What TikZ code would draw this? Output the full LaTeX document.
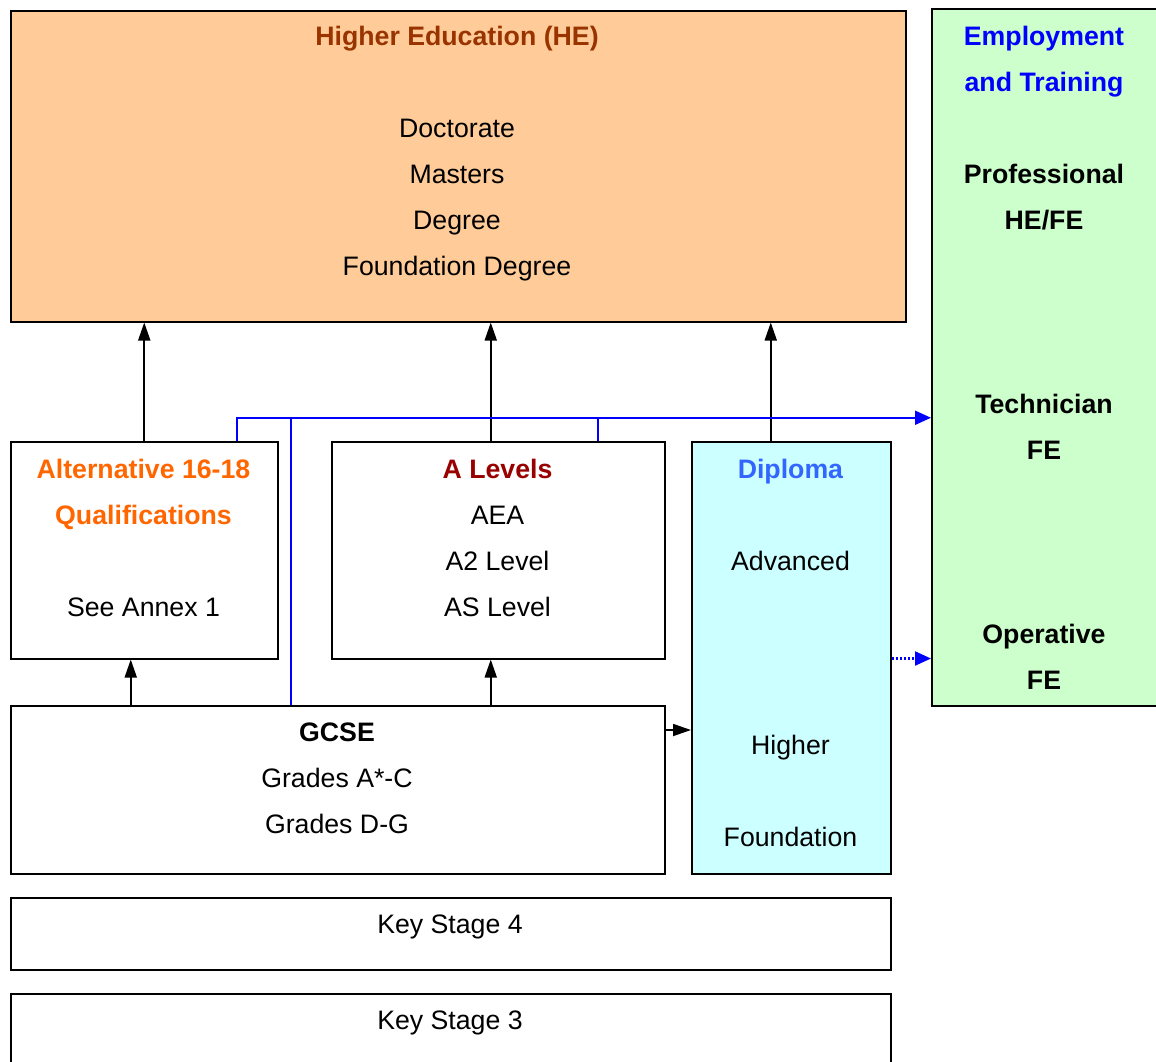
\documentclass[tikz,border=0pt]{standalone}
\usepackage{fontspec}
\setmainfont{Liberation Sans}
\usetikzlibrary{arrows.meta}

\definecolor{heorange}{HTML}{FFCC99}
\definecolor{hebrown}{HTML}{993300}
\definecolor{empgreen}{HTML}{CCFFCC}
\definecolor{altorange}{HTML}{FF6600}
\definecolor{alevred}{HTML}{990000}
\definecolor{dipcyan}{HTML}{CCFFFF}
\definecolor{dipblue}{HTML}{3366FF}

\tikzset{
  box/.style={draw=black, line width=1.5pt, rectangle, anchor=north west, inner sep=0pt},
  txt/.style={anchor=north, align=center, inner sep=0pt, font=\fontsize{26.7}{46}\selectfont},
  up/.style={line width=1.8pt, -{Stealth[length=18pt,width=12pt,inset=0pt]}},
  blueln/.style={blue, line width=2pt},
}

\begin{document}
\begin{tikzpicture}[x=1pt,y=-1pt]
  \useasboundingbox (0,0) rectangle (1156,1061);

  % boxes
  \node[box, fill=heorange, minimum width=895pt, minimum height=311pt] (he) at (10,10) {};
  \node[box, fill=empgreen, minimum width=240pt, minimum height=697pt] (emp) at (931,8) {};
  \node[box, minimum width=267pt, minimum height=217pt] (alt) at (10,441) {};
  \node[box, minimum width=333pt, minimum height=217pt] (alev) at (331,441) {};
  \node[box, fill=dipcyan, minimum width=199pt, minimum height=432pt] (dip) at (691,441) {};
  \node[box, minimum width=654pt, minimum height=168pt] (gcse) at (10,705) {};
  \node[box, minimum width=880pt, minimum height=72pt] (ks4) at (10,897) {};
  \node[box, minimum width=880pt, minimum height=90pt] (ks3) at (10,993) {};

  % texts
  \node[txt] (hetxt) at (457,25.5) {\textcolor{hebrown}{\textbf{Higher Education (HE)}}\\[46pt]
    Doctorate\\ Masters\\ Degree\\ Foundation Degree};
  \node[txt] (emptxt) at (1044,25.5) {\textcolor{blue}{\textbf{Employment}}\\ \textcolor{blue}{\textbf{and Training}}\\[46pt]
    \textbf{Professional}\\ \textbf{HE/FE}\\[138pt]
    \textbf{Technician}\\ \textbf{FE}\\[138pt]
    \textbf{Operative}\\ \textbf{FE}};
  \node[txt] (alttxt) at (143.5,458.5) {\textcolor{altorange}{\textbf{Alternative 16-18}}\\ \textcolor{altorange}{\textbf{Qualifications}}\\[46pt]
    See Annex 1};
  \node[txt] (alevtxt) at (497.5,458.5) {\textcolor{alevred}{\textbf{A Levels}}\\ AEA\\ A2 Level\\ AS Level};
  \node[txt] (diptxt) at (790.5,458.5) {\textcolor{dipblue}{\textbf{Diploma}}\\[46pt]
    Advanced\\[138pt] Higher\\[46pt] Foundation};
  \node[txt] (gcsetxt) at (337,722.5) {\textbf{GCSE}\\ Grades A*-C\\ Grades D-G};
  \node[txt] (ks4txt) at (450,914.5) {Key Stage 4};
  \node[txt] (ks3txt) at (450,1010.5) {Key Stage 3};

  % black arrows
  \draw[up] (alt.north) -- (alt.north |- he.south);
  \draw[up] ([xshift=-7.5pt]alev.north) -- ([xshift=-7.5pt]alev.north |- he.south);
  \draw[up] ([xshift=-20.5pt]dip.north) -- ([xshift=-20.5pt]dip.north |- he.south);
  \draw[up] ([xshift=-13.5pt]alt.south |- gcse.north) -- ([xshift=-13.5pt]alt.south);
  \draw[up] ([xshift=-7.5pt]alev.south |- gcse.north) -- ([xshift=-7.5pt]alev.south);
  \draw[up] ([yshift=-25pt]gcse.north east) -- ([yshift=-25pt]gcse.north east -| dip.west);

  % blue routes
  \coordinate (tip) at ([yshift=-60.5pt]emp.west);
  \draw[blueln, -{Stealth[length=16pt,width=14pt,inset=0pt]}] ([xshift=92.5pt]alt.north) |- (tip);
  \draw[blueln] ([xshift=-47pt]gcse.north |- tip) -- ([xshift=-47pt]gcse.north);
  \draw[blueln] ([xshift=99.5pt]alev.north |- tip) -- ([xshift=99.5pt]alev.north);
  \draw[blueln, dotted, line width=2.2pt, -{Stealth[length=16pt,width=14pt,inset=0pt]}]
    ([yshift=48pt]emp.south west -| dip.east) -- ([yshift=48pt]emp.south west);
\end{tikzpicture}
\end{document}
